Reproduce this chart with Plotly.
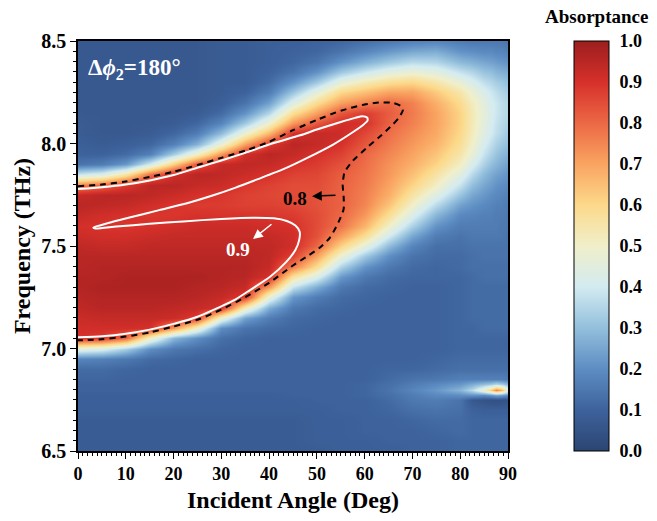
import numpy as np
import plotly.graph_objects as go

# ---------------- data ----------------
angles = [0, 5, 10, 15, 20, 25, 30, 35, 40, 45, 50, 55, 60, 65, 70, 75, 80, 82.5, 85, 86.5, 87.5, 88.5, 90]
freqs = [6.50, 6.55, 6.60, 6.65, 6.70, 6.75, 6.775, 6.80, 6.825, 6.85,
         6.90, 6.95, 7.00, 7.05, 7.10, 7.15, 7.20, 7.25, 7.30, 7.35, 7.40, 7.45, 7.50,
         7.55, 7.60, 7.65, 7.70, 7.75, 7.80, 7.85, 7.90, 7.95, 8.00, 8.05, 8.10, 8.15, 8.20, 8.25, 8.30, 8.35, 8.40, 8.45, 8.50]

# absorptance columns (one per incident angle, low -> high frequency)
a_00 = [0.08,0.08,0.08,0.08,0.09,0.09,0.09,0.10,0.10,0.11,
        0.12,0.18,0.45,0.90,0.91,0.92,0.94,0.95,0.96,0.96,0.95,0.95,0.94,
        0.92,0.905,0.93,0.95,0.93,0.75,0.38,0.14,0.10,0.09,0.08,0.08,0.07,0.07,0.07,0.07,0.07,0.07,0.07,0.07]
a_05 = [0.08,0.08,0.08,0.08,0.09,0.09,0.09,0.10,0.10,0.11,
        0.12,0.17,0.42,0.88,0.91,0.93,0.95,0.96,0.97,0.96,0.96,0.95,0.93,
        0.91,0.895,0.91,0.94,0.95,0.80,0.42,0.16,0.10,0.08,0.07,0.07,0.07,0.07,0.07,0.07,0.07,0.07,0.07,0.07]
a_10 = [0.08,0.08,0.08,0.08,0.09,0.09,0.09,0.10,0.10,0.10,
        0.11,0.15,0.33,0.80,0.91,0.93,0.95,0.96,0.97,0.97,0.96,0.95,0.93,
        0.91,0.89,0.90,0.93,0.95,0.88,0.55,0.22,0.12,0.09,0.07,0.07,0.07,0.07,0.07,0.07,0.07,0.07,0.07,0.07]
a_15 = [0.08,0.08,0.08,0.08,0.09,0.09,0.09,0.10,0.10,0.10,
        0.10,0.12,0.20,0.50,0.90,0.93,0.95,0.96,0.97,0.97,0.96,0.95,0.94,
        0.92,0.90,0.89,0.91,0.94,0.95,0.78,0.40,0.17,0.11,0.08,0.07,0.07,0.07,0.07,0.07,0.07,0.07,0.07,0.07]
a_20 = [0.08,0.08,0.08,0.08,0.09,0.09,0.09,0.10,0.10,0.10,
        0.10,0.11,0.15,0.28,0.72,0.92,0.94,0.96,0.97,0.97,0.96,0.95,0.94,
        0.93,0.91,0.89,0.89,0.92,0.95,0.91,0.62,0.33,0.17,0.11,0.08,0.07,0.07,0.07,0.07,0.07,0.07,0.07,0.07]
a_25 = [0.08,0.08,0.08,0.08,0.09,0.09,0.09,0.10,0.10,0.10,
        0.10,0.10,0.13,0.20,0.50,0.87,0.93,0.95,0.96,0.97,0.96,0.95,0.94,
        0.93,0.92,0.90,0.88,0.90,0.93,0.95,0.83,0.50,0.27,0.16,0.11,0.08,0.07,0.07,0.07,0.07,0.07,0.07,0.07]
a_30 = [0.08,0.08,0.08,0.08,0.09,0.09,0.09,0.10,0.10,0.10,
        0.10,0.10,0.11,0.13,0.20,0.48,0.90,0.93,0.95,0.96,0.96,0.95,0.94,
        0.93,0.92,0.895,0.88,0.89,0.92,0.94,0.93,0.72,0.47,0.29,0.18,0.12,0.09,0.08,0.08,0.08,0.08,0.08,0.08]
a_35 = [0.08,0.08,0.08,0.08,0.09,0.09,0.09,0.10,0.10,0.10,
        0.10,0.10,0.10,0.11,0.14,0.24,0.52,0.88,0.93,0.95,0.96,0.95,0.94,
        0.93,0.92,0.895,0.87,0.87,0.89,0.92,0.94,0.91,0.70,0.48,0.32,0.21,0.14,0.10,0.08,0.08,0.08,0.08,0.08]
a_40 = [0.08,0.08,0.08,0.08,0.09,0.09,0.09,0.10,0.10,0.10,
        0.10,0.10,0.10,0.10,0.12,0.16,0.26,0.47,0.72,0.90,0.93,0.94,0.94,
        0.93,0.91,0.89,0.87,0.86,0.87,0.90,0.93,0.95,0.88,0.66,0.49,0.35,0.24,0.16,0.12,0.10,0.09,0.09,0.09]
a_45 = [0.08,0.08,0.08,0.08,0.09,0.09,0.10,0.10,0.10,0.10,
        0.10,0.10,0.10,0.10,0.11,0.12,0.15,0.22,0.38,0.56,0.76,0.87,0.91,
        0.91,0.90,0.88,0.86,0.85,0.85,0.87,0.90,0.93,0.95,0.90,0.72,0.58,0.44,0.31,0.21,0.14,0.11,0.10,0.09]
a_50 = [0.08,0.09,0.09,0.09,0.09,0.10,0.10,0.10,0.10,0.10,
        0.10,0.10,0.10,0.10,0.10,0.11,0.12,0.16,0.26,0.42,0.58,0.70,0.80,
        0.84,0.85,0.85,0.84,0.84,0.85,0.86,0.88,0.90,0.93,0.93,0.83,0.71,0.59,0.46,0.32,0.21,0.14,0.11,0.10]
a_55 = [0.09,0.09,0.09,0.09,0.10,0.10,0.10,0.10,0.10,0.10,
        0.10,0.10,0.10,0.10,0.10,0.10,0.11,0.12,0.15,0.22,0.34,0.48,0.61,
        0.71,0.78,0.80,0.81,0.81,0.81,0.82,0.84,0.87,0.90,0.92,0.91,0.83,0.71,0.60,0.46,0.32,0.21,0.14,0.11]
a_60 = [0.09,0.09,0.10,0.10,0.10,0.10,0.11,0.11,0.11,0.10,
        0.10,0.10,0.10,0.10,0.10,0.10,0.10,0.11,0.12,0.15,0.21,0.32,0.46,
        0.58,0.67,0.72,0.75,0.76,0.77,0.78,0.79,0.80,0.83,0.86,0.90,0.88,0.76,0.65,0.53,0.39,0.27,0.18,0.13]
a_65 = [0.09,0.10,0.10,0.10,0.11,0.12,0.13,0.14,0.13,0.12,
        0.11,0.10,0.10,0.10,0.10,0.10,0.10,0.10,0.11,0.12,0.15,0.20,0.29,
        0.40,0.50,0.58,0.64,0.68,0.70,0.72,0.73,0.75,0.77,0.79,0.81,0.82,0.80,0.70,0.58,0.45,0.32,0.22,0.15]
a_70 = [0.10,0.10,0.10,0.11,0.13,0.15,0.16,0.18,0.16,0.14,
        0.11,0.10,0.10,0.10,0.10,0.10,0.10,0.10,0.10,0.11,0.12,0.14,0.18,
        0.25,0.34,0.43,0.50,0.56,0.61,0.65,0.68,0.70,0.72,0.74,0.76,0.77,0.76,0.70,0.60,0.48,0.36,0.25,0.17]
a_75 = [0.10,0.10,0.11,0.12,0.14,0.16,0.19,0.22,0.19,0.15,
        0.12,0.11,0.10,0.10,0.10,0.10,0.10,0.10,0.10,0.11,0.11,0.12,0.13,
        0.16,0.21,0.28,0.36,0.44,0.51,0.56,0.61,0.64,0.67,0.69,0.70,0.70,0.68,0.63,0.55,0.45,0.35,0.26,0.18]
a_80 = [0.11,0.11,0.12,0.12,0.13,0.14,0.20,0.28,0.22,0.17,
        0.13,0.12,0.11,0.11,0.11,0.11,0.11,0.11,0.11,0.11,0.12,0.12,0.13,
        0.14,0.16,0.19,0.24,0.31,0.38,0.45,0.51,0.55,0.58,0.60,0.61,0.61,0.59,0.55,0.47,0.38,0.29,0.21,0.16]
a_825 = [0.11,0.11,0.11,0.11,0.10,0.07,0.21,0.36,0.26,0.17,
         0.13,0.12,0.11,0.11,0.11,0.12,0.12,0.12,0.12,0.12,0.13,0.13,0.14,
         0.15,0.16,0.18,0.21,0.25,0.30,0.36,0.42,0.47,0.50,0.52,0.53,0.53,0.52,0.48,0.42,0.35,0.27,0.20,0.15]
a_85 = [0.11,0.11,0.11,0.11,0.09,0.05,0.20,0.50,0.30,0.17,
        0.13,0.12,0.11,0.11,0.12,0.12,0.12,0.12,0.12,0.13,0.13,0.14,0.14,
        0.15,0.16,0.17,0.19,0.22,0.25,0.29,0.34,0.38,0.41,0.44,0.45,0.46,0.45,0.42,0.37,0.31,0.25,0.19,0.15]
a_865 = [0.11,0.11,0.11,0.11,0.09,0.04,0.22,0.62,0.32,0.17,
         0.13,0.12,0.11,0.11,0.12,0.12,0.12,0.12,0.12,0.13,0.13,0.14,0.14,
         0.15,0.16,0.17,0.18,0.20,0.23,0.26,0.30,0.34,0.37,0.40,0.41,0.42,0.41,0.39,0.35,0.30,0.24,0.19,0.15]
a_875 = [0.11,0.11,0.11,0.11,0.09,0.04,0.25,0.75,0.35,0.17,
         0.13,0.12,0.11,0.11,0.12,0.12,0.12,0.12,0.12,0.13,0.13,0.14,0.14,
         0.15,0.16,0.16,0.17,0.19,0.21,0.24,0.28,0.31,0.34,0.37,0.38,0.39,0.39,0.37,0.33,0.28,0.23,0.18,0.15]
a_885 = [0.11,0.11,0.11,0.11,0.09,0.04,0.24,0.68,0.33,0.17,
         0.13,0.12,0.11,0.11,0.12,0.12,0.12,0.12,0.12,0.13,0.13,0.14,0.14,
         0.15,0.15,0.16,0.17,0.18,0.20,0.23,0.26,0.29,0.32,0.35,0.36,0.37,0.37,0.35,0.32,0.27,0.22,0.18,0.15]
a_90 = [0.11,0.11,0.11,0.11,0.09,0.05,0.20,0.45,0.28,0.16,
        0.13,0.12,0.11,0.11,0.12,0.12,0.12,0.12,0.12,0.13,0.13,0.14,0.14,
        0.14,0.15,0.15,0.16,0.17,0.19,0.21,0.24,0.27,0.30,0.32,0.34,0.35,0.35,0.33,0.30,0.26,0.21,0.17,0.14]

columns = [a_00, a_05, a_10, a_15, a_20, a_25, a_30, a_35, a_40, a_45, a_50, a_55,
           a_60, a_65, a_70, a_75, a_80, a_825, a_85, a_865, a_875, a_885, a_90]

# contour lines (angle, frequency)
c08_angle = [0,5,10,15,20,25,30,35,40,45, 50,55,60,63,66,67.6,68,67.3,66,63.5,
             60.5,57.5,55.8,55.4,55.6,55.6,54.5,52.7,50.5,48, 45,40,35,30,25,20,15,10,5,0]
c08_freq = [7.792,7.80,7.815,7.837,7.862,7.895,7.93,7.965,8.008,8.065, 8.115,8.16,8.19,8.20,8.198,8.183,8.165,8.13,8.095,8.04,
            7.98,7.915,7.86,7.80,7.74,7.68,7.615,7.54,7.49,7.45, 7.405,7.32,7.25,7.19,7.14,7.107,7.078,7.058,7.045,7.04]

c09_angle = [0,5,10,15,20,25.7,30,35,40,46.5, 50,55,58,59.5,60.5,60.6,59.8,57.5,53.4,48,
             43,37.5,33,28,23,17,11,6,3.2,3.6, 8,15,22,30,36.6,41,43.7,45.5,46.4,46.3,
             45.5,43.5,40.2,36,33,28,25,20,15,10, 5,0]
c09_freq = [7.778,7.787,7.80,7.82,7.846,7.887,7.917,7.955,7.995,8.04, 8.068,8.105,8.125,8.133,8.127,8.112,8.093,8.055,7.995,7.93,
            7.875,7.825,7.785,7.745,7.71,7.675,7.64,7.61,7.59,7.585, 7.595,7.608,7.62,7.632,7.638,7.635,7.622,7.60,7.57,7.53,
            7.48,7.42,7.35,7.285,7.24,7.185,7.155,7.12,7.092,7.072, 7.06,7.055]

x_ticks = [0, 10, 20, 30, 40, 50, 60, 70, 80, 90]
y_ticks = [6.5, 7.0, 7.5, 8.0, 8.5]
cbar_ticks = [0.0, 0.1, 0.2, 0.3, 0.4, 0.5, 0.6, 0.7, 0.8, 0.9, 1.0]

# ---------------- figure ----------------
z = np.array(columns).T

colorscale = [
    [0.00, '#2c4572'], [0.10, '#3d629c'], [0.20, '#5d8dc3'], [0.30, '#93bfdc'],
    [0.40, '#d3ebf1'], [0.50, '#f0efca'], [0.60, '#fcd98a'], [0.70, '#f9a461'],
    [0.80, '#ec6845'], [0.90, '#d6302a'], [1.00, '#9c1e1f'],
]

FONT = 'Liberation Serif'
def bold(size, color='black'):
    return dict(family=FONT, size=size, color=color, weight='bold')

fig = go.Figure()
fig.add_trace(go.Heatmap(
    x=angles, y=freqs, z=z, zsmooth='best', zmin=0, zmax=1,
    colorscale=colorscale,
    colorbar=dict(
        thickness=35, thicknessmode='pixels', len=1, lenmode='fraction',
        x=(574 - 78) / 430, xanchor='left', y=0.5, yanchor='middle',
        xpad=0, ypad=0, outlinewidth=1, outlinecolor='black',
        tickvals=cbar_ticks, tickformat='.1f', tickfont=bold(18),
        ticks='outside', ticklen=7, tickcolor='rgba(0,0,0,0)',
    ),
    hoverinfo='skip',
))

fig.add_trace(go.Scatter(
    x=c09_angle, y=c09_freq, mode='lines',
    line=dict(color='white', width=2, shape='spline', smoothing=0.6),
    hoverinfo='skip',
))
fig.add_trace(go.Scatter(
    x=c08_angle, y=c08_freq, mode='lines',
    line=dict(color='black', width=2, dash='6px,5px', shape='spline', smoothing=0.6),
    hoverinfo='skip',
))

axis_common = dict(
    showline=True, linecolor='black', linewidth=1.5, mirror=True,
    showgrid=False, zeroline=False, ticks='outside', ticklen=6, tickwidth=1.3,
    tickcolor='black',
)

fig.update_xaxes(
    range=[0, 90], tickvals=x_ticks, tickfont=bold(18), **axis_common,
    minor=dict(dtick=1, ticks='outside', ticklen=3, tickwidth=1, tickcolor='black', showgrid=False),
    title=dict(text='Incident Angle (Deg)', font=bold(24), standoff=8),
)
fig.update_yaxes(
    range=[6.5, 8.5], tickvals=y_ticks, tickformat='.1f', tickfont=bold(20), **axis_common,
    minor=dict(dtick=0.05, ticks='outside', ticklen=3, tickwidth=1, tickcolor='black', showgrid=False),
    title=dict(text='Frequency (THz)', font=bold(24), standoff=4),
)

annotations = [
    dict(text='Absorptance', xref='paper', yref='paper', x=(596 - 78) / 430, y=(453 - 16) / 412,
         xanchor='center', yanchor='middle', showarrow=False, font=bold(19)),
    dict(text='Δ<i>ϕ</i><sub>2</sub>=180°', xref='paper', yref='paper', x=(86 - 78) / 430, y=(453 - 69) / 412,
         xanchor='left', yanchor='middle', showarrow=False, font=bold(23, 'white')),
    # arrows
    dict(x=48.98, y=7.743, ax=54.21, ay=7.748, xref='x', yref='y', axref='x', ayref='y',
         text='', showarrow=True, arrowhead=2, arrowsize=1.3, arrowwidth=1.5, arrowcolor='black'),
    dict(x=36.63, y=7.534, ax=40.81, ay=7.612, xref='x', yref='y', axref='x', ayref='y',
         text='', showarrow=True, arrowhead=2, arrowsize=1.3, arrowwidth=1.5, arrowcolor='white'),
    dict(text='0.8', x=45.42, y=7.733, xref='x', yref='y', showarrow=False,
         xanchor='center', yanchor='middle', font=bold(19)),
    dict(text='0.9', x=33.49, y=7.485, xref='x', yref='y', showarrow=False,
         xanchor='center', yanchor='middle', font=bold(19, 'white')),
]

fig.update_layout(
    width=657, height=521,
    margin=dict(l=78, r=149, t=41, b=68),
    paper_bgcolor='white', plot_bgcolor='white',
    font=dict(family=FONT, size=18, color='black'),
    showlegend=False,
    annotations=annotations,
)

fig.write_html('out.html')
